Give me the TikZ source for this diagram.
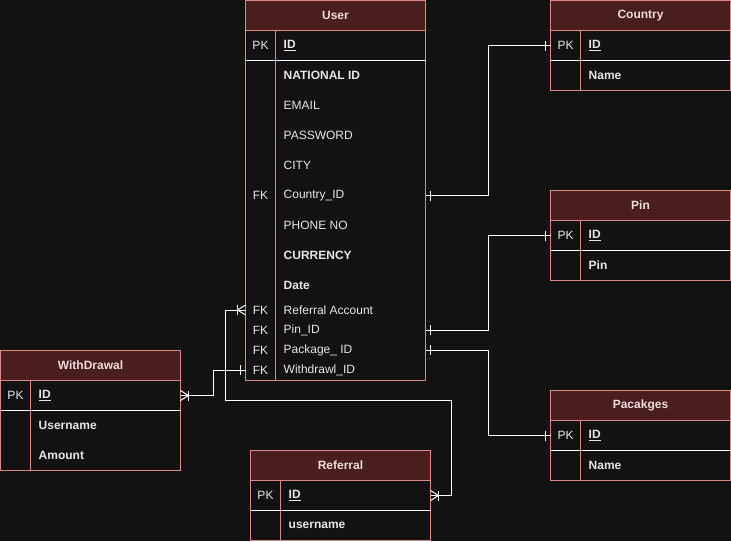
\documentclass[tikz,border=0pt]{standalone}
\usepackage{fontspec}
\setmainfont{Liberation Sans}
\definecolor{bgc}{HTML}{121212}
\definecolor{hdc}{HTML}{4A1E1E}
\definecolor{bdc}{HTML}{D98A84}
\definecolor{txc}{HTML}{E6E6E6}
\definecolor{htc}{HTML}{F0DCDC}
\tikzset{
  hdr/.style={draw=bdc, fill=hdc, line width=1pt, anchor=north west, inner sep=0pt, outer sep=0pt,
    minimum height=30pt, text=htc, font=\fontsize{12}{14}\selectfont\bfseries},
  body/.style={draw=bdc, fill=bgc, line width=1pt, anchor=north west, inner sep=0pt, outer sep=0pt},
  rowbox/.style={anchor=north west, inner sep=0pt, outer sep=0pt, draw=none},
  keytxt/.style={text=txc, font=\fontsize{12}{14}\selectfont, inner sep=0pt},
  fldtxt/.style={text=txc, font=\fontsize{12}{14}\selectfont, anchor=west, inner sep=0pt},
  divline/.style={draw=bdc, line width=1pt},
  sepline/.style={draw=white, line width=1pt},
  conn/.style={draw=white, line width=1pt},
  one/.pic={\draw[conn] (5,-5) -- (5,5);},
  crowone/.pic={\draw[conn] (0,-5) -- (8,0) -- (0,5); \draw[conn] (8,-5) -- (8,5);}
}
\newcommand\erow[7]{%
  \node[rowbox, minimum width=#4, minimum height=#5] (#1) at (#2,#3) {};
  \node[keytxt] (#1k) at ([xshift=15pt]#1.west) {#6};
  \node[fldtxt] (#1f) at ([xshift=38pt]#1.west) {#7};
}
\begin{document}
\begin{tikzpicture}[x=1pt, y=-1pt]
\fill[bgc] (0,0) rectangle (731,541);
\useasboundingbox (0,0) rectangle (731,541);

% ---------- User ----------
\node[hdr, minimum width=180pt] (uh) at (245.5,0.5) {User};
\node[body, minimum width=180pt, minimum height=349.5pt] (ub) at (245.5,30.5) {};
\draw[divline] ([xshift=30pt]ub.north west) -- ([xshift=30pt]ub.south west);
\erow{upk}{245.5}{30.5}{180pt}{30pt}{PK}{\bfseries\underline{ID}}
\draw[sepline] (upk.south west) -- (upk.south east);
\erow{u1}{245.5}{60.5}{180pt}{30pt}{}{\bfseries NATIONAL ID}
\erow{u2}{245.5}{90.5}{180pt}{30pt}{}{EMAIL}
\erow{u3}{245.5}{120.5}{180pt}{30pt}{}{PASSWORD}
\erow{u4}{245.5}{150.5}{180pt}{30pt}{}{CITY}
\erow{u5}{245.5}{180.5}{180pt}{30pt}{FK}{Country\_ID}
\erow{u6}{245.5}{210.5}{180pt}{30pt}{}{PHONE NO}
\erow{u7}{245.5}{240.5}{180pt}{30pt}{}{\bfseries CURRENCY}
\erow{u7b}{245.5}{270.5}{180pt}{30pt}{}{\bfseries Date}
\erow{u8}{245.5}{300}{180pt}{20pt}{FK}{Referral Account}
\erow{u9}{245.5}{320}{180pt}{20pt}{FK}{Pin\_ID}
\erow{u10}{245.5}{340}{180pt}{20pt}{FK}{Package\_ ID}
\erow{u11}{245.5}{360}{180pt}{20pt}{FK}{Withdrawl\_ID}

% ---------- Country ----------
\node[hdr, minimum width=180pt] (ch) at (550.5,0.5) {Country};
\node[body, minimum width=180pt, minimum height=60pt] (cb) at (550.5,30.5) {};
\draw[divline] ([xshift=30pt]cb.north west) -- ([xshift=30pt]cb.south west);
\erow{cpk}{550.5}{30.5}{180pt}{30pt}{PK}{\bfseries\underline{ID}}
\draw[sepline] (cpk.south west) -- (cpk.south east);
\erow{c1}{550.5}{60.5}{180pt}{30pt}{}{\bfseries Name}

% ---------- Pin ----------
\node[hdr, minimum width=180pt] (ph) at (550.5,190.5) {Pin};
\node[body, minimum width=180pt, minimum height=60pt] (pb) at (550.5,220.5) {};
\draw[divline] ([xshift=30pt]pb.north west) -- ([xshift=30pt]pb.south west);
\erow{ppk}{550.5}{220.5}{180pt}{30pt}{PK}{\bfseries\underline{ID}}
\draw[sepline] (ppk.south west) -- (ppk.south east);
\erow{p1}{550.5}{250.5}{180pt}{30pt}{}{\bfseries Pin}

% ---------- Pacakges ----------
\node[hdr, minimum width=180pt] (kh) at (550.5,390.5) {Pacakges};
\node[body, minimum width=180pt, minimum height=60pt] (kb) at (550.5,420.5) {};
\draw[divline] ([xshift=30pt]kb.north west) -- ([xshift=30pt]kb.south west);
\erow{kpk}{550.5}{420.5}{180pt}{30pt}{PK}{\bfseries\underline{ID}}
\draw[sepline] (kpk.south west) -- (kpk.south east);
\erow{k1}{550.5}{450.5}{180pt}{30pt}{}{\bfseries Name}

% ---------- WithDrawal ----------
\node[hdr, minimum width=180pt] (wh) at (0.5,350.5) {WithDrawal};
\node[body, minimum width=180pt, minimum height=90pt] (wb) at (0.5,380.5) {};
\draw[divline] ([xshift=30pt]wb.north west) -- ([xshift=30pt]wb.south west);
\erow{wpk}{0.5}{380.5}{180pt}{30pt}{PK}{\bfseries\underline{ID}}
\draw[sepline] (wpk.south west) -- (wpk.south east);
\erow{w1}{0.5}{410.5}{180pt}{30pt}{}{\bfseries Username}
\erow{w2}{0.5}{440.5}{180pt}{30pt}{}{\bfseries Amount}

% ---------- Referral ----------
\node[hdr, minimum width=180pt] (rh) at (250.5,450.5) {Referral};
\node[body, minimum width=180pt, minimum height=60pt] (rb) at (250.5,480.5) {};
\draw[divline] ([xshift=30pt]rb.north west) -- ([xshift=30pt]rb.south west);
\erow{rpk}{250.5}{480.5}{180pt}{30pt}{PK}{\bfseries\underline{ID}}
\draw[sepline] (rpk.south west) -- (rpk.south east);
\erow{r1}{250.5}{510.5}{180pt}{30pt}{}{\bfseries username}

% ---------- Connectors ----------
\draw[conn] (u5.east) -- ++(62.5,0) |- (cpk.west);
\pic at (u5.east) {one};
\pic[rotate=180] at (cpk.west) {one};

\draw[conn] (u9.east) -- ++(62.5,0) |- (ppk.west);
\pic at (u9.east) {one};
\pic[rotate=180] at (ppk.west) {one};

\draw[conn] (u10.east) -- ++(62.5,0) |- (kpk.west);
\pic at (u10.east) {one};
\pic[rotate=180] at (kpk.west) {one};

\draw[conn] (u11.west) -- ++(-32.5,0) |- (wpk.east);
\pic[rotate=180] at (u11.west) {one};
\pic at (wpk.east) {crowone};

\coordinate (rbend) at (451,400.5);
\draw[conn] (u8.west) -- ++(-20.5,0) |- (rbend) |- (rpk.east);
\pic[rotate=180] at (u8.west) {crowone};
\pic at (rpk.east) {crowone};
\end{tikzpicture}
\end{document}
